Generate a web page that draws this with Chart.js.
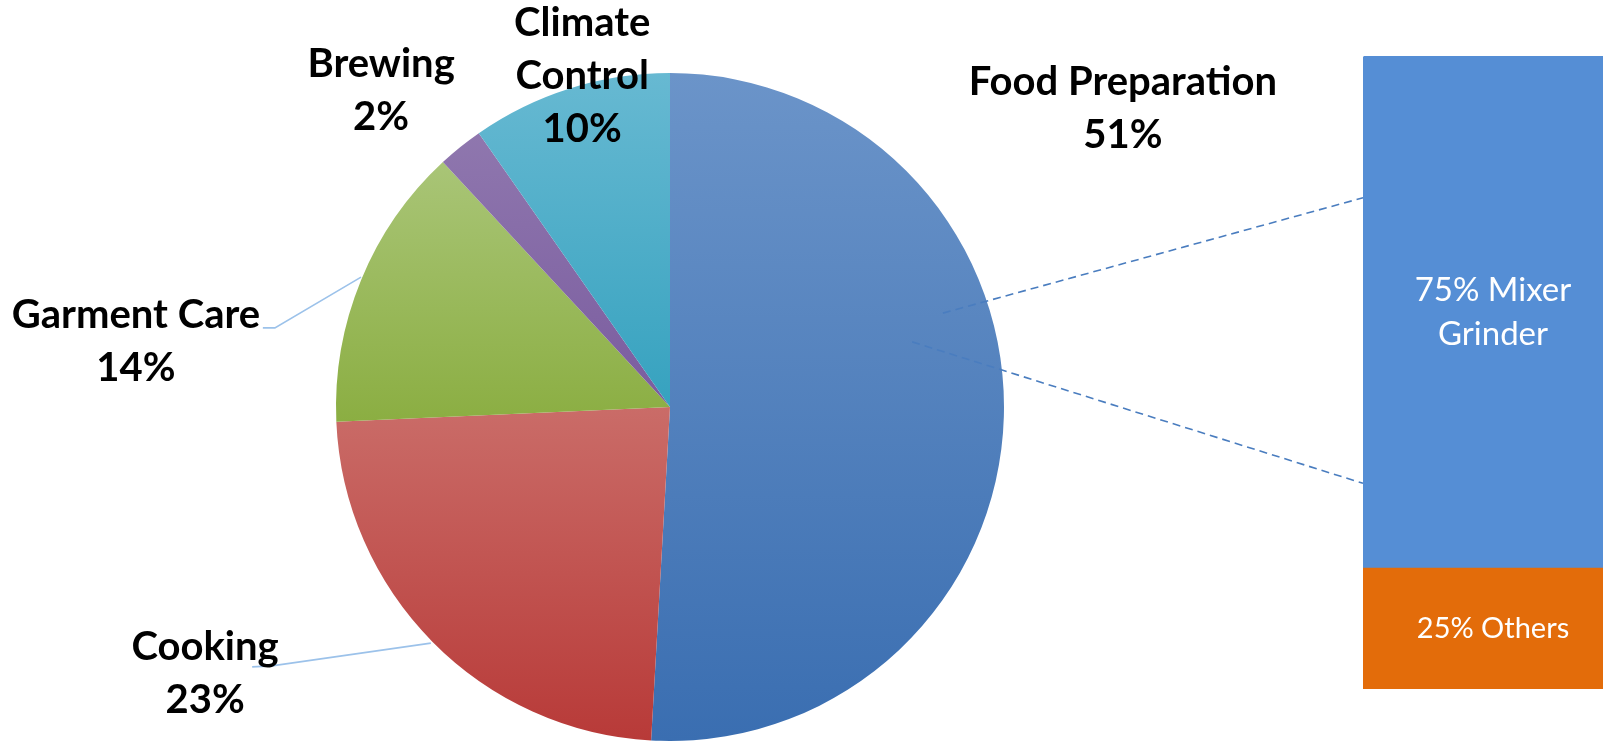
<!DOCTYPE html>
<html>
<head>
<meta charset="utf-8">
<script src="https://cdn.jsdelivr.net/npm/chart.js@4"></script>
<style>
  html, body { margin:0; padding:0; background:#ffffff; overflow:hidden; width:1603px; height:741px; }
  #pie { position:absolute; left:0; top:0; }
  #bar { position:absolute; left:1363px; top:56px; }
</style>
</head>
<body>
<canvas id="pie" width="1603" height="741"></canvas>
<canvas id="bar" width="260" height="633"></canvas>
<script>
// ---------------- data ----------------
const categories = ['Food Preparation', 'Cooking', 'Garment Care', 'Brewing', 'Climate Control'];
const shares = [50.9, 23.4, 13.8, 2.2, 9.7];
const labelWraps = [['Food Preparation'], ['Cooking'], ['Garment Care'], ['Brewing'], ['Climate', 'Control']];

const subCategories = ['Mixer Grinder', 'Others'];
const subShares = [75, 25];
const subLabelWraps = [['75% Mixer', 'Grinder'], ['25% Others']];

// ---------------- styles ----------------
const gradTop    = ['#6b94c9', '#ca6c68', '#a9c577', '#8f77ae', '#67b9d2'];
const gradBottom = ['#3a6eb1', '#b83a38', '#8bae42', '#7a5c9f', '#36a2bf'];
const subColors  = ['#558ed5', '#e36c0a'];
const subFontSizes = [33, 29];
const FONT = 'Lato, "Open Sans", sans-serif';

// label layout (in units of pie radius, relative to the pie centre)
const labelAnchors = [[1.356, -0.894], [-1.392, 0.798], [-1.599, -0.196], [-0.865, -0.946], [-0.263, -0.991]];
const leaderLines = {
  1: [[-1.251, 0.778], [-1.192, 0.775], [-0.716, 0.707]],
  2: [[-1.219, -0.237], [-1.183, -0.237], [-0.925, -0.389]]
};
// connector lines: pie-side point (radius units) -> fraction down the visible bar stack
const connectors = [[[0.817, -0.281], 0.224], [[0.725, -0.195], 0.675]];

function sliceGradient(context) {
  const chart = context.chart;
  const area = chart.chartArea;
  const i = context.dataIndex;
  if (!area) return gradTop[i];
  const cx = (area.left + area.right) / 2, cy = (area.top + area.bottom) / 2;
  const r = Math.min(area.width, area.height) / 2;
  const total = shares.reduce((a, b) => a + b, 0);
  let start = 0;
  for (let k = 0; k < i; k++) start += shares[k];
  const a0 = start / total * 2 * Math.PI;
  const a1 = (start + shares[i]) / total * 2 * Math.PI;
  const ys = [cy, cy - r * Math.cos(a0), cy - r * Math.cos(a1)];
  if (a0 <= Math.PI && a1 >= Math.PI) ys.push(cy + r);
  const y0 = Math.min(...ys), y1 = Math.max(...ys);
  const g = chart.ctx.createLinearGradient(0, y0, 0, y1 + 0.01);
  g.addColorStop(0, gradTop[i]);
  g.addColorStop(1, gradBottom[i]);
  return g;
}

// ---------------- bar (breakdown of Food Preparation) ----------------
const barLabels = {
  id: 'barLabels',
  afterDatasetsDraw(chart) {
    const ctx = chart.ctx;
    const area = chart.chartArea;
    ctx.save();
    ctx.fillStyle = '#ffffff';
    ctx.textAlign = 'center';
    ctx.textBaseline = 'middle';
    chart.data.datasets.forEach((ds, di) => {
      const el = chart.getDatasetMeta(di).data[0];
      const si = ds.subIndex;
      const size = subFontSizes[si];
      const lineH = size * 1.34;
      ctx.font = '400 ' + size + 'px ' + FONT;
      const lines = subLabelWraps[si];
      const yTop = Math.max(Math.min(el.y, el.base), area.top);
      const yBot = Math.min(Math.max(el.y, el.base), area.bottom);
      const midY = (yTop + yBot) / 2;
      lines.forEach((t, j) => {
        ctx.fillText(t, el.x, midY + (j - (lines.length - 1) / 2) * lineH);
      });
    });
    ctx.restore();
  }
};

const barChart = new Chart(document.getElementById('bar'), {
  type: 'bar',
  data: {
    labels: ['Food Preparation'],
    datasets: [
      { label: subCategories[1], subIndex: 1, data: [subShares[1]], backgroundColor: subColors[1],
        borderRadius: { bottomLeft: 3, bottomRight: 3, topLeft: 0, topRight: 0 }, borderSkipped: false },
      { label: subCategories[0], subIndex: 0, data: [subShares[0]], backgroundColor: subColors[0],
        borderRadius: { topLeft: 3, topRight: 3, bottomLeft: 0, bottomRight: 0 }, borderSkipped: false }
    ]
  },
  options: {
    responsive: false,
    animation: false,
    events: [],
    layout: { padding: 0 },
    plugins: { legend: { display: false }, tooltip: { enabled: false } },
    scales: {
      x: { stacked: true, display: false, offset: true },
      y: { stacked: true, display: false, min: 7.3, max: 100 }
    },
    datasets: { bar: { barPercentage: 1, categoryPercentage: 1 } }
  },
  plugins: [barLabels]
});

// ---------------- pie ----------------
const pieDecor = {
  id: 'pieDecor',
  afterDatasetsDraw(chart) {
    const ctx = chart.ctx;
    const arc = chart.getDatasetMeta(0).data[0];
    const cx = arc.x, cy = arc.y, r = arc.outerRadius;
    const P = p => [cx + p[0] * r, cy + p[1] * r];
    ctx.save();

    // connectors to the bar
    const barCanvas = barChart.canvas;
    const offX = barCanvas.offsetLeft, offY = barCanvas.offsetTop;
    const bArea = barChart.chartArea;
    const topEl = barChart.getDatasetMeta(1).data[0];
    const botEl = barChart.getDatasetMeta(0).data[0];
    const barLeft = offX + topEl.x - topEl.width / 2;
    const stackTop = offY + Math.max(topEl.y, bArea.top);
    const stackBottom = offY + Math.min(botEl.base, bArea.bottom);
    ctx.strokeStyle = '#4a7dbf';
    ctx.lineWidth = 1.6;
    ctx.setLineDash([8, 5]);
    connectors.forEach(([p, f]) => {
      const a = P(p);
      ctx.beginPath();
      ctx.moveTo(a[0], a[1]);
      ctx.lineTo(barLeft, stackTop + f * (stackBottom - stackTop));
      ctx.stroke();
    });
    ctx.setLineDash([]);

    // leader lines
    ctx.strokeStyle = '#9cc2ea';
    ctx.lineWidth = 1.6;
    Object.values(leaderLines).forEach(pts => {
      ctx.beginPath();
      pts.forEach((p, k) => { const q = P(p); k ? ctx.lineTo(q[0], q[1]) : ctx.moveTo(q[0], q[1]); });
      ctx.stroke();
    });

    // labels
    ctx.fillStyle = '#000000';
    ctx.font = '700 40px ' + FONT;
    ctx.textAlign = 'center';
    ctx.textBaseline = 'middle';
    const lineH = 53;
    const total = shares.reduce((a, b) => a + b, 0);
    categories.forEach((c, i) => {
      const lines = labelWraps[i].concat([Math.round(shares[i] / total * 100) + '%']);
      const a = P(labelAnchors[i]);
      lines.forEach((t, j) => {
        ctx.fillText(t, a[0], a[1] + (j - (lines.length - 1) / 2) * lineH);
      });
    });
    ctx.restore();
  }
};

new Chart(document.getElementById('pie'), {
  type: 'pie',
  data: {
    labels: categories,
    datasets: [{
      data: shares,
      backgroundColor: sliceGradient,
      borderWidth: 0
    }]
  },
  options: {
    responsive: false,
    animation: false,
    events: [],
    rotation: 0,
    layout: { padding: { left: 336, right: 599, top: 73, bottom: 0 } },
    plugins: { legend: { display: false }, tooltip: { enabled: false } }
  },
  plugins: [pieDecor]
});
</script>
</body>
</html>
